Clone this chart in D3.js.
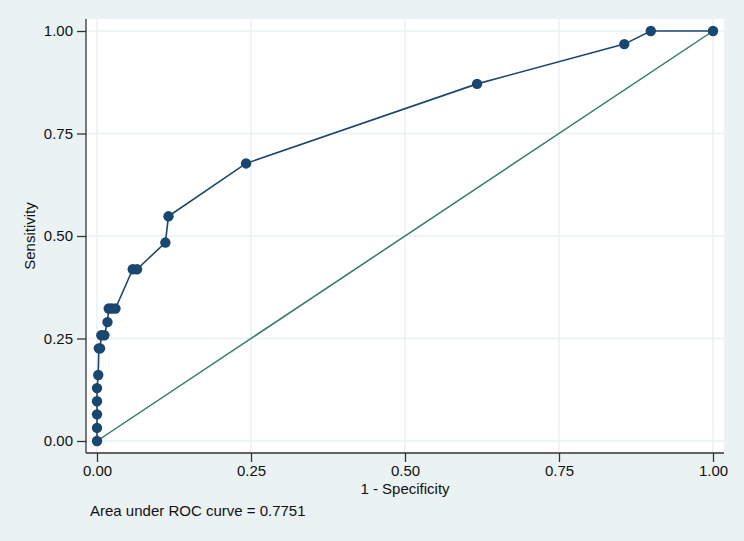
<!DOCTYPE html>
<html>
<head>
<meta charset="utf-8">
<script src="https://cdn.jsdelivr.net/npm/d3@7"></script>
<style>
  html, body { margin: 0; padding: 0; background: #eaf2f3; }
  svg { display: block; font-family: "Liberation Sans", Arial, sans-serif; }
</style>
</head>
<body>
<svg id="chart" width="744" height="541"></svg>
<script>
// ROC points
const specComplement = [0, 0, 0, 0, 0, 0.002, 0.003, 0.005, 0.007, 0.012, 0.017, 0.019, 0.024, 0.030, 0.058, 0.065, 0.111, 0.116, 0.242, 0.617, 0.856, 0.899, 1];
const sensitivity    = [0, 0.032, 0.065, 0.097, 0.129, 0.161, 0.226, 0.226, 0.258, 0.258, 0.290, 0.323, 0.323, 0.323, 0.419, 0.419, 0.484, 0.548, 0.677, 0.871, 0.968, 1, 1];
const tickValues = [0, 0.25, 0.5, 0.75, 1];
const aucNote = "Area under ROC curve = 0.7751";

const points = specComplement.map((x, i) => ({ x, y: sensitivity[i] }));

const svg = d3.select("#chart");
const W = 744, H = 541;

svg.append("rect").attr("width", W).attr("height", H).attr("fill", "#eaf2f3");

// plot region
const plot = { left: 86, top: 19, right: 724, bottom: 453 };

svg.append("rect")
  .attr("x", plot.left).attr("y", plot.top)
  .attr("width", plot.right - plot.left)
  .attr("height", plot.bottom - plot.top)
  .attr("fill", "#ffffff");

const x = d3.scaleLinear().domain([0, 1]).range([97, 713]);
const y = d3.scaleLinear().domain([0, 1]).range([441, 31]);

// gridlines
const grid = svg.append("g").attr("stroke", "#eaf2f3").attr("stroke-width", 1.5);
tickValues.forEach(t => {
  grid.append("line")
    .attr("x1", x(t)).attr("x2", x(t))
    .attr("y1", plot.top).attr("y2", plot.bottom);
  grid.append("line")
    .attr("x1", plot.left).attr("x2", plot.right)
    .attr("y1", y(t)).attr("y2", y(t));
});

// axes
const fmt = d3.format(".2f");

const yAxis = svg.append("g")
  .attr("transform", `translate(${plot.left},0)`)
  .call(d3.axisLeft(y).tickValues(tickValues).tickFormat(fmt).tickSize(9).tickPadding(4));
yAxis.select(".domain").attr("d", `M0,${plot.top}V${plot.bottom}`);

const xAxis = svg.append("g")
  .attr("transform", `translate(0,${plot.bottom})`)
  .call(d3.axisBottom(x).tickValues(tickValues).tickFormat(fmt).tickSize(9).tickPadding(3));
xAxis.select(".domain").attr("d", `M${plot.left},0H${plot.right}`);

[xAxis, yAxis].forEach(a => {
  a.select(".domain").attr("stroke", "#333").attr("stroke-width", 1.3);
  a.selectAll(".tick line").attr("stroke", "#333").attr("stroke-width", 1.3);
  a.selectAll(".tick text")
    .attr("fill", "#111")
    .style("font-size", "15px")
    .style("font-family", "\"Liberation Sans\", Arial, sans-serif");
});

// reference diagonal
svg.append("line")
  .attr("x1", x(0)).attr("y1", y(0))
  .attr("x2", x(1)).attr("y2", y(1))
  .attr("stroke", "#2f7a68")
  .attr("stroke-width", 1.5);

// ROC curve
const line = d3.line().x(d => x(d.x)).y(d => y(d.y));
svg.append("path")
  .datum(points)
  .attr("d", line)
  .attr("fill", "none")
  .attr("stroke", "#1a476f")
  .attr("stroke-width", 1.6);

svg.append("g")
  .selectAll("circle")
  .data(points)
  .enter()
  .append("circle")
  .attr("cx", d => x(d.x))
  .attr("cy", d => y(d.y))
  .attr("r", 5.2)
  .attr("fill", "#1a476f");

// titles
svg.append("text")
  .attr("x", (plot.left + plot.right) / 2)
  .attr("y", 494)
  .attr("text-anchor", "middle")
  .style("font-size", "15px")
  .attr("fill", "#111")
  .text("1 - Specificity");

svg.append("text")
  .attr("transform", `translate(35,${(plot.top + plot.bottom) / 2}) rotate(-90)`)
  .attr("text-anchor", "middle")
  .style("font-size", "15px")
  .attr("fill", "#111")
  .text("Sensitivity");

svg.append("text")
  .attr("x", 90)
  .attr("y", 516)
  .style("font-size", "15px")
  .attr("fill", "#111")
  .text(aucNote);
</script>
</body>
</html>
